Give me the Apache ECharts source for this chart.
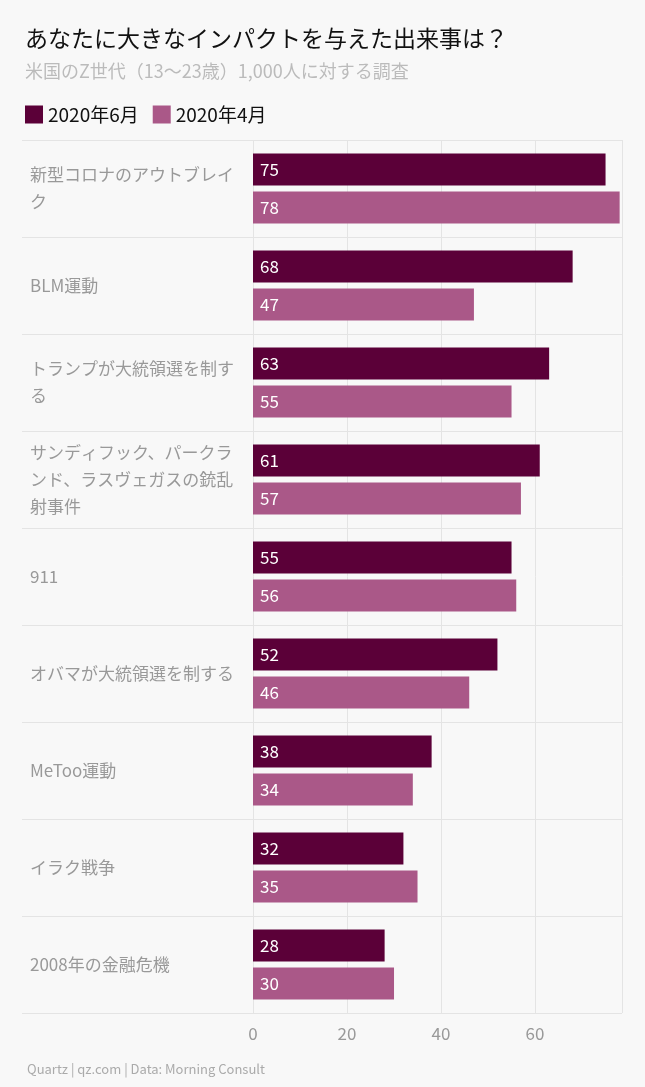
<!DOCTYPE html><html><head><meta charset="utf-8">
<script src="https://cdn.jsdelivr.net/npm/echarts@6/dist/echarts.min.js"></script>
<style>html,body{margin:0;background:#f8f8f8}#c{width:645px;height:1087px}</style></head><body><div id="c"></div>
<script>
const categories=["新型コロナのアウトブレイク","BLM運動","トランプが大統領選を制する","サンディフック、パークランド、ラスヴェガスの銃乱射事件","911","オバマが大統領選を制する","MeToo運動","イラク戦争","2008年の金融危機"];
const june=[75,68,63,61,55,52,38,32,28];
const april=[78,47,55,57,56,46,34,35,30];
const seriesNames=["2020年6月","2020年4月"];
const font='"Noto Sans CJK JP","Noto Sans",sans-serif';
const chart=echarts.init(document.getElementById('c'));
const lbl={show:true,position:'insideLeft',color:'#fff',fontSize:17,fontFamily:font,offset:[2,0]};
chart.setOption({
 backgroundColor:'#f8f8f8',
 title:[{text:'あなたに大きなインパクトを与えた出来事は？',left:20,top:22,textStyle:{fontSize:23,fontWeight:'normal',color:'#111',fontFamily:font}},
  {text:'米国のZ世代（13〜23歳）1,000人に対する調査',left:20,top:57,textStyle:{fontSize:18,fontWeight:'normal',color:'#bbb',fontFamily:font}},
  {text:'Quartz | qz.com | Data: Morning Consult',left:22,top:1058,textStyle:{fontSize:13,fontWeight:'normal',color:'#aaa',fontFamily:font}}],
 legend:{left:20,top:100,itemWidth:18,itemHeight:18,itemGap:14,icon:'rect',textStyle:{fontSize:19,color:'#111',fontFamily:font}},
 grid:[{left:22,right:23,top:140,bottom:74},{left:253,right:23,top:140,bottom:74}],
 xAxis:[{gridIndex:0,type:'value',show:false},
  {gridIndex:1,type:'value',min:0,max:78.5,interval:20,axisLine:{show:false},axisTick:{show:false},
   splitLine:{lineStyle:{color:'#e4e4e4'}},axisLabel:{fontSize:17,color:'#999',fontFamily:font,margin:12,showMaxLabel:false}}],
 yAxis:[{gridIndex:0,type:'category',data:categories,inverse:true,axisLine:{show:false},axisTick:{show:false},
   splitLine:{show:true,lineStyle:{color:'#e4e4e4'}},
   axisLabel:{inside:true,align:'left',width:218,overflow:'break',fontSize:17,lineHeight:27,color:'#999',fontFamily:font}},
  {gridIndex:1,type:'category',data:categories,inverse:true,show:false}],
 series:[
  {name:seriesNames[0],type:'bar',xAxisIndex:1,yAxisIndex:1,data:june,barWidth:32,barGap:'19%',itemStyle:{color:'#5b0038'},label:lbl},
  {name:seriesNames[1],type:'bar',xAxisIndex:1,yAxisIndex:1,data:april,barWidth:32,itemStyle:{color:'#aa5888'},label:lbl}]
});
</script></body></html>
